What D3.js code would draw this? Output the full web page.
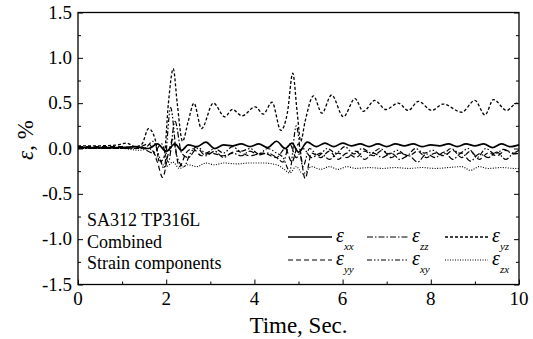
<!DOCTYPE html>
<html>
<head>
<meta charset="utf-8">
<script src="https://cdn.jsdelivr.net/npm/d3@7"></script>
<style>
  body { margin: 0; background: #fff; }
</style>
</head>
<body>
<div id="chart"></div>
<script>
// strain components [time (s), strain (%)]
var epsXx = [[0,0.01],[0.5,0.01],[1.0,0.01],[1.3,0.02],[1.6,0.0],[1.8,0.05],[2.0,-0.03],[2.2,0.05],[2.35,-0.02],[2.5,0.04],[2.7,0.02],[2.9,0.07],[3.1,0.0],[3.3,0.04],[3.5,0.03],[3.7,0.05],[3.9,0.02],[4.1,0.05],[4.3,0.01],[4.5,0.08],[4.7,0.0],[4.85,0.06],[5.0,-0.04],[5.2,0.07],[5.4,0.02],[5.6,0.06],[5.8,0.02],[6.0,0.06],[6.2,0.03],[6.4,0.05],[6.6,0.02],[6.8,0.05],[7.0,0.02],[7.2,0.05],[7.4,0.03],[7.6,0.05],[7.8,0.02],[8.0,0.04],[8.2,0.03],[8.4,0.05],[8.6,0.02],[8.8,0.05],[9.0,0.03],[9.2,0.05],[9.4,0.01],[9.6,0.05],[9.8,0.02],[10,0.04]];
var epsYy = [[0,0.02],[1.0,0.02],[1.3,0.0],[1.6,0.05],[1.8,-0.15],[1.92,-0.32],[2.05,-0.05],[2.15,0.1],[2.3,-0.2],[2.45,-0.05],[2.6,0.0],[2.8,-0.08],[3.0,-0.05],[3.3,-0.08],[3.6,-0.03],[3.9,-0.08],[4.2,-0.05],[4.5,-0.1],[4.7,0.0],[4.85,-0.15],[5.0,0.05],[5.15,-0.33],[5.3,-0.05],[5.5,-0.1],[5.7,-0.03],[5.9,-0.12],[6.1,-0.05],[6.3,-0.1],[6.5,-0.03],[6.7,-0.08],[6.9,-0.02],[7.1,-0.1],[7.3,-0.05],[7.5,-0.08],[7.7,-0.03],[7.9,-0.1],[8.1,-0.05],[8.3,-0.08],[8.5,-0.02],[8.7,-0.1],[8.9,-0.03],[9.1,-0.12],[9.3,-0.05],[9.5,-0.08],[9.7,-0.02],[9.9,-0.06],[10,-0.05]];
var epsZz = [[0,0.0],[1.0,0.0],[1.4,0.01],[1.7,-0.05],[1.9,0.05],[2.05,-0.15],[2.2,0.3],[2.35,-0.05],[2.5,-0.1],[2.7,0.0],[2.9,-0.08],[3.1,-0.03],[3.3,-0.1],[3.5,-0.05],[3.7,-0.08],[3.9,-0.03],[4.1,-0.07],[4.3,-0.05],[4.5,-0.1],[4.65,-0.15],[4.8,0.05],[4.95,-0.1],[5.1,0.0],[5.3,-0.1],[5.5,-0.05],[5.7,-0.12],[5.9,-0.05],[6.1,-0.1],[6.3,-0.03],[6.5,-0.12],[6.7,-0.05],[6.9,-0.1],[7.1,-0.05],[7.3,-0.12],[7.5,-0.08],[7.7,-0.15],[7.9,-0.06],[8.1,-0.1],[8.3,-0.04],[8.5,-0.12],[8.7,-0.05],[8.9,-0.14],[9.1,-0.06],[9.3,-0.1],[9.5,-0.04],[9.7,-0.12],[9.9,-0.05],[10,-0.06]];
var epsXy = [[0,0.0],[1.0,0.0],[1.5,0.0],[1.7,0.08],[1.85,-0.1],[1.95,-0.22],[2.1,0.45],[2.25,-0.1],[2.4,-0.2],[2.55,-0.05],[2.7,0.02],[2.9,-0.05],[3.1,0.0],[3.3,-0.05],[3.5,0.02],[3.7,-0.03],[3.9,0.0],[4.1,-0.06],[4.3,0.0],[4.5,-0.05],[4.65,-0.1],[4.8,-0.25],[4.95,0.25],[5.1,-0.2],[5.25,0.0],[5.45,-0.08],[5.65,0.0],[5.85,-0.05],[6.05,0.02],[6.25,-0.06],[6.45,0.0],[6.65,-0.05],[6.85,0.0],[7.05,-0.06],[7.25,-0.02],[7.45,-0.08],[7.65,0.0],[7.85,-0.05],[8.05,-0.02],[8.25,-0.08],[8.45,0.0],[8.65,-0.05],[8.85,0.0],[9.05,-0.1],[9.25,0.0],[9.45,-0.06],[9.65,-0.01],[9.85,-0.05],[10,-0.02]];
var epsYz = [[0,0.03],[0.5,0.03],[0.9,0.04],[1.1,0.06],[1.3,0.02],[1.45,0.05],[1.6,0.22],[1.75,0.1],[1.85,-0.15],[1.95,-0.1],[2.05,0.5],[2.16,0.88],[2.25,0.5],[2.37,0.08],[2.5,0.3],[2.63,0.5],[2.8,0.22],[3.07,0.5],[3.33,0.35],[3.5,0.43],[3.72,0.36],[4.02,0.46],[4.2,0.38],[4.4,0.51],[4.6,0.2],[4.75,0.4],[4.87,0.83],[4.97,0.4],[5.05,0.08],[5.15,0.3],[5.34,0.58],[5.53,0.39],[5.75,0.59],[6.02,0.35],[6.28,0.55],[6.47,0.41],[6.73,0.53],[6.98,0.43],[7.26,0.5],[7.49,0.42],[7.72,0.52],[8.02,0.42],[8.28,0.49],[8.7,0.4],[9.0,0.53],[9.23,0.37],[9.42,0.54],[9.72,0.42],[9.95,0.5],[10,0.49]];
var epsZx = [[0,0.0],[1.0,0.0],[1.4,-0.02],[1.6,0.0],[1.8,-0.1],[2.0,-0.2],[2.15,-0.15],[2.3,-0.22],[2.5,-0.18],[2.7,-0.2],[2.9,-0.16],[3.1,-0.18],[3.3,-0.16],[3.6,-0.17],[3.9,-0.16],[4.2,-0.16],[4.5,-0.18],[4.65,-0.22],[4.8,-0.27],[4.95,-0.2],[5.1,-0.28],[5.3,-0.2],[5.5,-0.23],[5.7,-0.2],[5.9,-0.23],[6.1,-0.2],[6.3,-0.22],[6.6,-0.21],[6.9,-0.22],[7.2,-0.21],[7.5,-0.22],[7.8,-0.21],[8.1,-0.22],[8.4,-0.21],[8.7,-0.2],[8.9,-0.24],[9.1,-0.2],[9.3,-0.22],[9.6,-0.21],[9.9,-0.22],[10,-0.22]];

var xTicks = [0, 2, 4, 6, 8, 10];
var yTicks = [1.5, 1.0, 0.5, 0.0, -0.5, -1.0, -1.5];
var noteLines = ["SA312 TP316L", "Combined", "Strain components"];

var series = [
  {key: "xx", data: epsXx, dash: null, w: 1.7},
  {key: "zz", data: epsZz, dash: "6,2,1.5,2", w: 1.2},
  {key: "yz", data: epsYz, dash: "3,2", w: 1.3},
  {key: "yy", data: epsYy, dash: "5,3", w: 1.2},
  {key: "xy", data: epsXy, dash: "5,2,1.5,2,1.5,2", w: 1.2},
  {key: "zx", data: epsZx, dash: "1,1.5", w: 1.1}
];

var FONT = '"Liberation Serif", "Times New Roman", serif';
var W = 533, H = 339;
var margin = {left: 78, top: 12.5, right: 14, bottom: 54.5};
var width = W - margin.left - margin.right;
var height = H - margin.top - margin.bottom;

var svg = d3.select('#chart')
  .append('svg')
  .attr('width', W)
  .attr('height', H)
  .style('font-family', FONT)
  .append('g')
  .attr('transform', 'translate(' + margin.left + ',' + margin.top + ')');

var x = d3.scaleLinear().domain([0, 10]).range([0, width]);
var y = d3.scaleLinear().domain([-1.5, 1.5]).range([height, 0]);

var yMinorVals = [1.25, 0.75, 0.25, -0.25, -0.75, -1.25];

function tickGroup(axis, tx, ty) {
  var g = svg.append('g')
    .attr('transform', 'translate(' + tx + ',' + ty + ')')
    .call(axis);
  g.select('.domain').remove();
  g.selectAll('line').attr('stroke', '#000').attr('stroke-width', 1);
  return g;
}
// inward ticks, major + minor
tickGroup(d3.axisTop(x).tickValues(xTicks).tickSize(5).tickFormat(''), 0, height);
tickGroup(d3.axisTop(x).tickValues(d3.range(1, 10, 2)).tickSize(3).tickFormat(''), 0, height);
tickGroup(d3.axisRight(y).tickValues(yTicks).tickSize(5).tickFormat(''), 0, 0);
tickGroup(d3.axisRight(y).tickValues(yMinorVals).tickSize(3).tickFormat(''), 0, 0);
tickGroup(d3.axisLeft(y).tickValues(yTicks).tickSize(5).tickFormat(''), width, 0);
tickGroup(d3.axisLeft(y).tickValues(yMinorVals).tickSize(3).tickFormat(''), width, 0);

// tick labels
svg.selectAll('.xlab')
  .data(xTicks)
  .enter()
  .append('text')
  .attr('font-family', FONT)
  .attr('x', function (d) { return x(d); })
  .attr('y', height + 20)
  .attr('text-anchor', 'middle')
  .style('font-size', '19px')
  .text(function (d) { return d; });

svg.selectAll('.ylab')
  .data(yTicks)
  .enter()
  .append('text')
  .attr('font-family', FONT)
  .attr('x', -6)
  .attr('y', function (d) { return y(d) + 6; })
  .attr('text-anchor', 'end')
  .style('font-size', '19px')
  .text(function (d) { return d3.format('.1f')(d).replace('\u2212', '-'); });

// curves
var line = d3.line()
  .x(function (d) { return x(d[0]); })
  .y(function (d) { return y(d[1]); })
  .curve(d3.curveMonotoneX);

svg.selectAll('.series')
  .data(series)
  .enter()
  .append('path')
  .attr('d', function (d) { return line(d.data); })
  .attr('fill', 'none')
  .attr('stroke', '#000')
  .attr('stroke-width', function (d) { return d.w; })
  .attr('stroke-dasharray', function (d) { return d.dash; });

// frame
svg.append('rect')
  .attr('width', width)
  .attr('height', height)
  .attr('fill', 'none')
  .attr('stroke', '#000')
  .attr('stroke-width', 1.3);

// axis titles
svg.append('text')
  .attr('font-family', FONT)
  .attr('x', width / 2)
  .attr('y', height + 48)
  .attr('text-anchor', 'middle')
  .style('font-size', '23px')
  .text('Time, Sec.');

var yt = svg.append('text')
  .attr('font-family', FONT)
  .attr('transform', 'translate(' + (33 - margin.left) + ',' + (140 - margin.top) + ') rotate(-90)')
  .attr('text-anchor', 'middle')
  .style('font-size', '23px');
yt.append('tspan').style('font-style', 'italic').text('\u03b5');
yt.append('tspan').text(', %');

// note text
svg.selectAll('.note')
  .data(noteLines)
  .enter()
  .append('text')
  .attr('font-family', FONT)
  .attr('x', 87 - margin.left)
  .attr('y', function (d, i) { return 226 - margin.top + i * 21.5; })
  .style('font-size', '18px')
  .text(function (d) { return d; });

// legend
var legendPos = [
  {x0: 288, x1: 332, row: 0},
  {x0: 367, x1: 408, row: 0},
  {x0: 445, x1: 488, row: 0},
  {x0: 288, x1: 332, row: 1},
  {x0: 367, x1: 408, row: 1},
  {x0: 445, x1: 488, row: 1}
];
var leg = svg.append('g')
  .attr('transform', 'translate(' + (-margin.left) + ',' + (-margin.top) + ')');
series.forEach(function (s, i) {
  var p = legendPos[i];
  var ly = 237 + p.row * 23;
  leg.append('line')
    .attr('x1', p.x0).attr('x2', p.x1)
    .attr('y1', ly).attr('y2', ly)
    .attr('stroke', '#000')
    .attr('stroke-width', s.w)
    .attr('stroke-dasharray', s.dash);
  var t = leg.append('text')
    .attr('font-family', FONT)
    .attr('x', p.x1 + 4)
    .attr('y', ly + 5)
    .style('font-size', '20px')
    .style('font-style', 'italic');
  t.append('tspan').text('\u03b5');
  t.append('tspan')
    .attr('dy', 8)
    .style('font-size', '11px')
    .text(s.key);
});
</script>
</body>
</html>
